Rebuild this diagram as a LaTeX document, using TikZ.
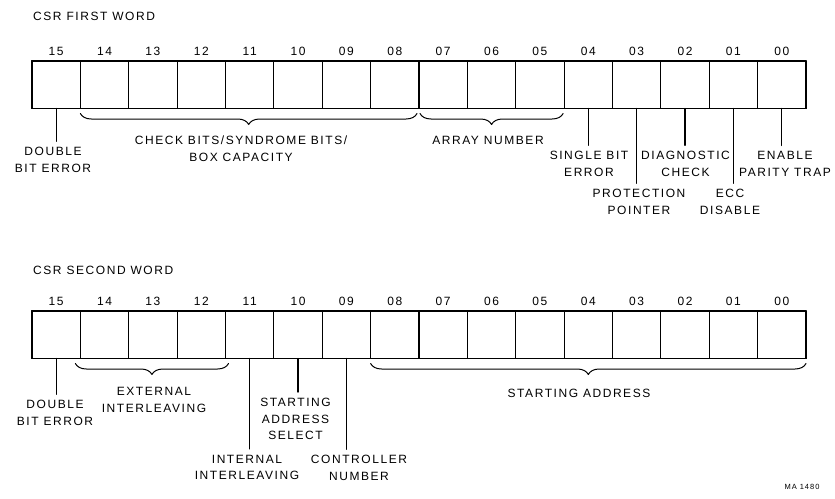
\documentclass[tikz,border=0pt]{standalone}
\usepackage{fontspec}
\setmainfont{Liberation Sans}[LetterSpace=13]
\usetikzlibrary{decorations.pathreplacing}

\tikzset{
  bitcell/.style={draw,line width=1.2pt,minimum width=48.375pt,minimum height=47.5pt,inner sep=0pt,outer sep=0pt},
  bitnum/.style={anchor=south,inner sep=0pt,yshift=5pt},
  fieldlabel/.style={align=center,inner sep=3pt},
  tick/.style={line width=1.3pt,shorten >=3pt},
  fieldbrace/.style={decorate,decoration={brace,mirror,amplitude=11pt},line width=1pt},
}

\begin{document}
\begin{tikzpicture}[x=1pt,y=-1pt,line cap=round,line join=round,
  every node/.style={font=\fontsize{12}{16.5}\selectfont}]
\useasboundingbox (0,0) rectangle (835,498);

% first word
\node[anchor=west,inner sep=0pt] (titleA) at (33,16.5) {CSR FIRST WORD};
\foreach \n [count=\k from 0] in {15,14,13,12,11,10,09,08,07,06,05,04,03,02,01,00} {
  \node[bitcell] (f\n) at ({56.19+48.375*\k},84.75) {};
  \node[bitnum] at (f\n.north) {\n};
}
\draw[line width=1.9pt] (f15.north west) rectangle (f00.south east);

\draw[fieldbrace] ([yshift=-5pt]f14.south west) -- ([xshift=-2pt,yshift=-5pt]f08.south east);
\draw[fieldbrace] ([xshift=1pt,yshift=-5pt]f07.south west) -- ([xshift=-1pt,yshift=-5pt]f05.south east);

\node[fieldlabel] (dbeA) at (53,160) {DOUBLE\\BIT ERROR};
\node[fieldlabel] (chk) at (241,148.5) {CHECK BITS/SYNDROME BITS/\\BOX CAPACITY};
\node[fieldlabel] (arr) at (488,140) {ARRAY NUMBER};
\node[fieldlabel] (sbe) at (589,164) {SINGLE BIT\\ERROR};
\node[fieldlabel] (prot) at (639,202) {PROTECTION\\POINTER};
\node[fieldlabel] (diag) at (685.5,164) {DIAGNOSTIC\\CHECK};
\node[fieldlabel] (ecc) at (730,202) {ECC\\DISABLE};
\node[fieldlabel] (ept) at (785,164) {ENABLE\\PARITY TRAP};

\draw[tick] (f15.south) -- (f15.south |- dbeA.north);
\draw[tick] (f04.south) -- (f04.south |- sbe.north);
\draw[tick] (f03.south) -- (f03.south |- prot.north);
\draw[tick] (f02.south) -- (f02.south |- diag.north);
\draw[tick] (f01.south) -- (f01.south |- ecc.north);
\draw[tick] (f00.south) -- (f00.south |- ept.north);

% second word
\node[anchor=west,inner sep=0pt] (titleB) at (33,270) {CSR SECOND WORD};
\foreach \n [count=\k from 0] in {15,14,13,12,11,10,09,08,07,06,05,04,03,02,01,00} {
  \node[bitcell] (s\n) at ({56.19+48.375*\k},334.75) {};
  \node[bitnum] at (s\n.north) {\n};
}
\draw[line width=1.9pt] (s15.north west) rectangle (s00.south east);

\draw[fieldbrace] ([xshift=-5pt,yshift=-5pt]s14.south west) -- ([xshift=3pt,yshift=-5pt]s12.south east);
\draw[fieldbrace] ([yshift=-5pt]s08.south west) -- ([yshift=-5pt]s00.south east);

\node[fieldlabel] (dbeB) at (55,413) {DOUBLE\\BIT ERROR};
\node[fieldlabel] (ext) at (154,400) {EXTERNAL\\INTERLEAVING};
\node[fieldlabel] (int) at (247,467.5) {INTERNAL\\INTERLEAVING};
\node[fieldlabel] (sas) at (295.5,419) {STARTING\\ADDRESS\\SELECT};
\node[fieldlabel] (ctl) at (359,468) {CONTROLLER\\NUMBER};
\node[fieldlabel] (addr) at (579,393) {STARTING ADDRESS};

\draw[tick] (s15.south) -- (s15.south |- dbeB.north);
\draw[tick] (s11.south) -- (s11.south |- int.north);
\draw[tick] (s10.south) -- (s10.south |- sas.north);
\draw[tick] (s09.south) -- (s09.south |- ctl.north);

\node[inner sep=0pt,font=\fontsize{7.5}{8}\selectfont] (fig) at (802,487) {MA 1480};
\end{tikzpicture}
\end{document}
